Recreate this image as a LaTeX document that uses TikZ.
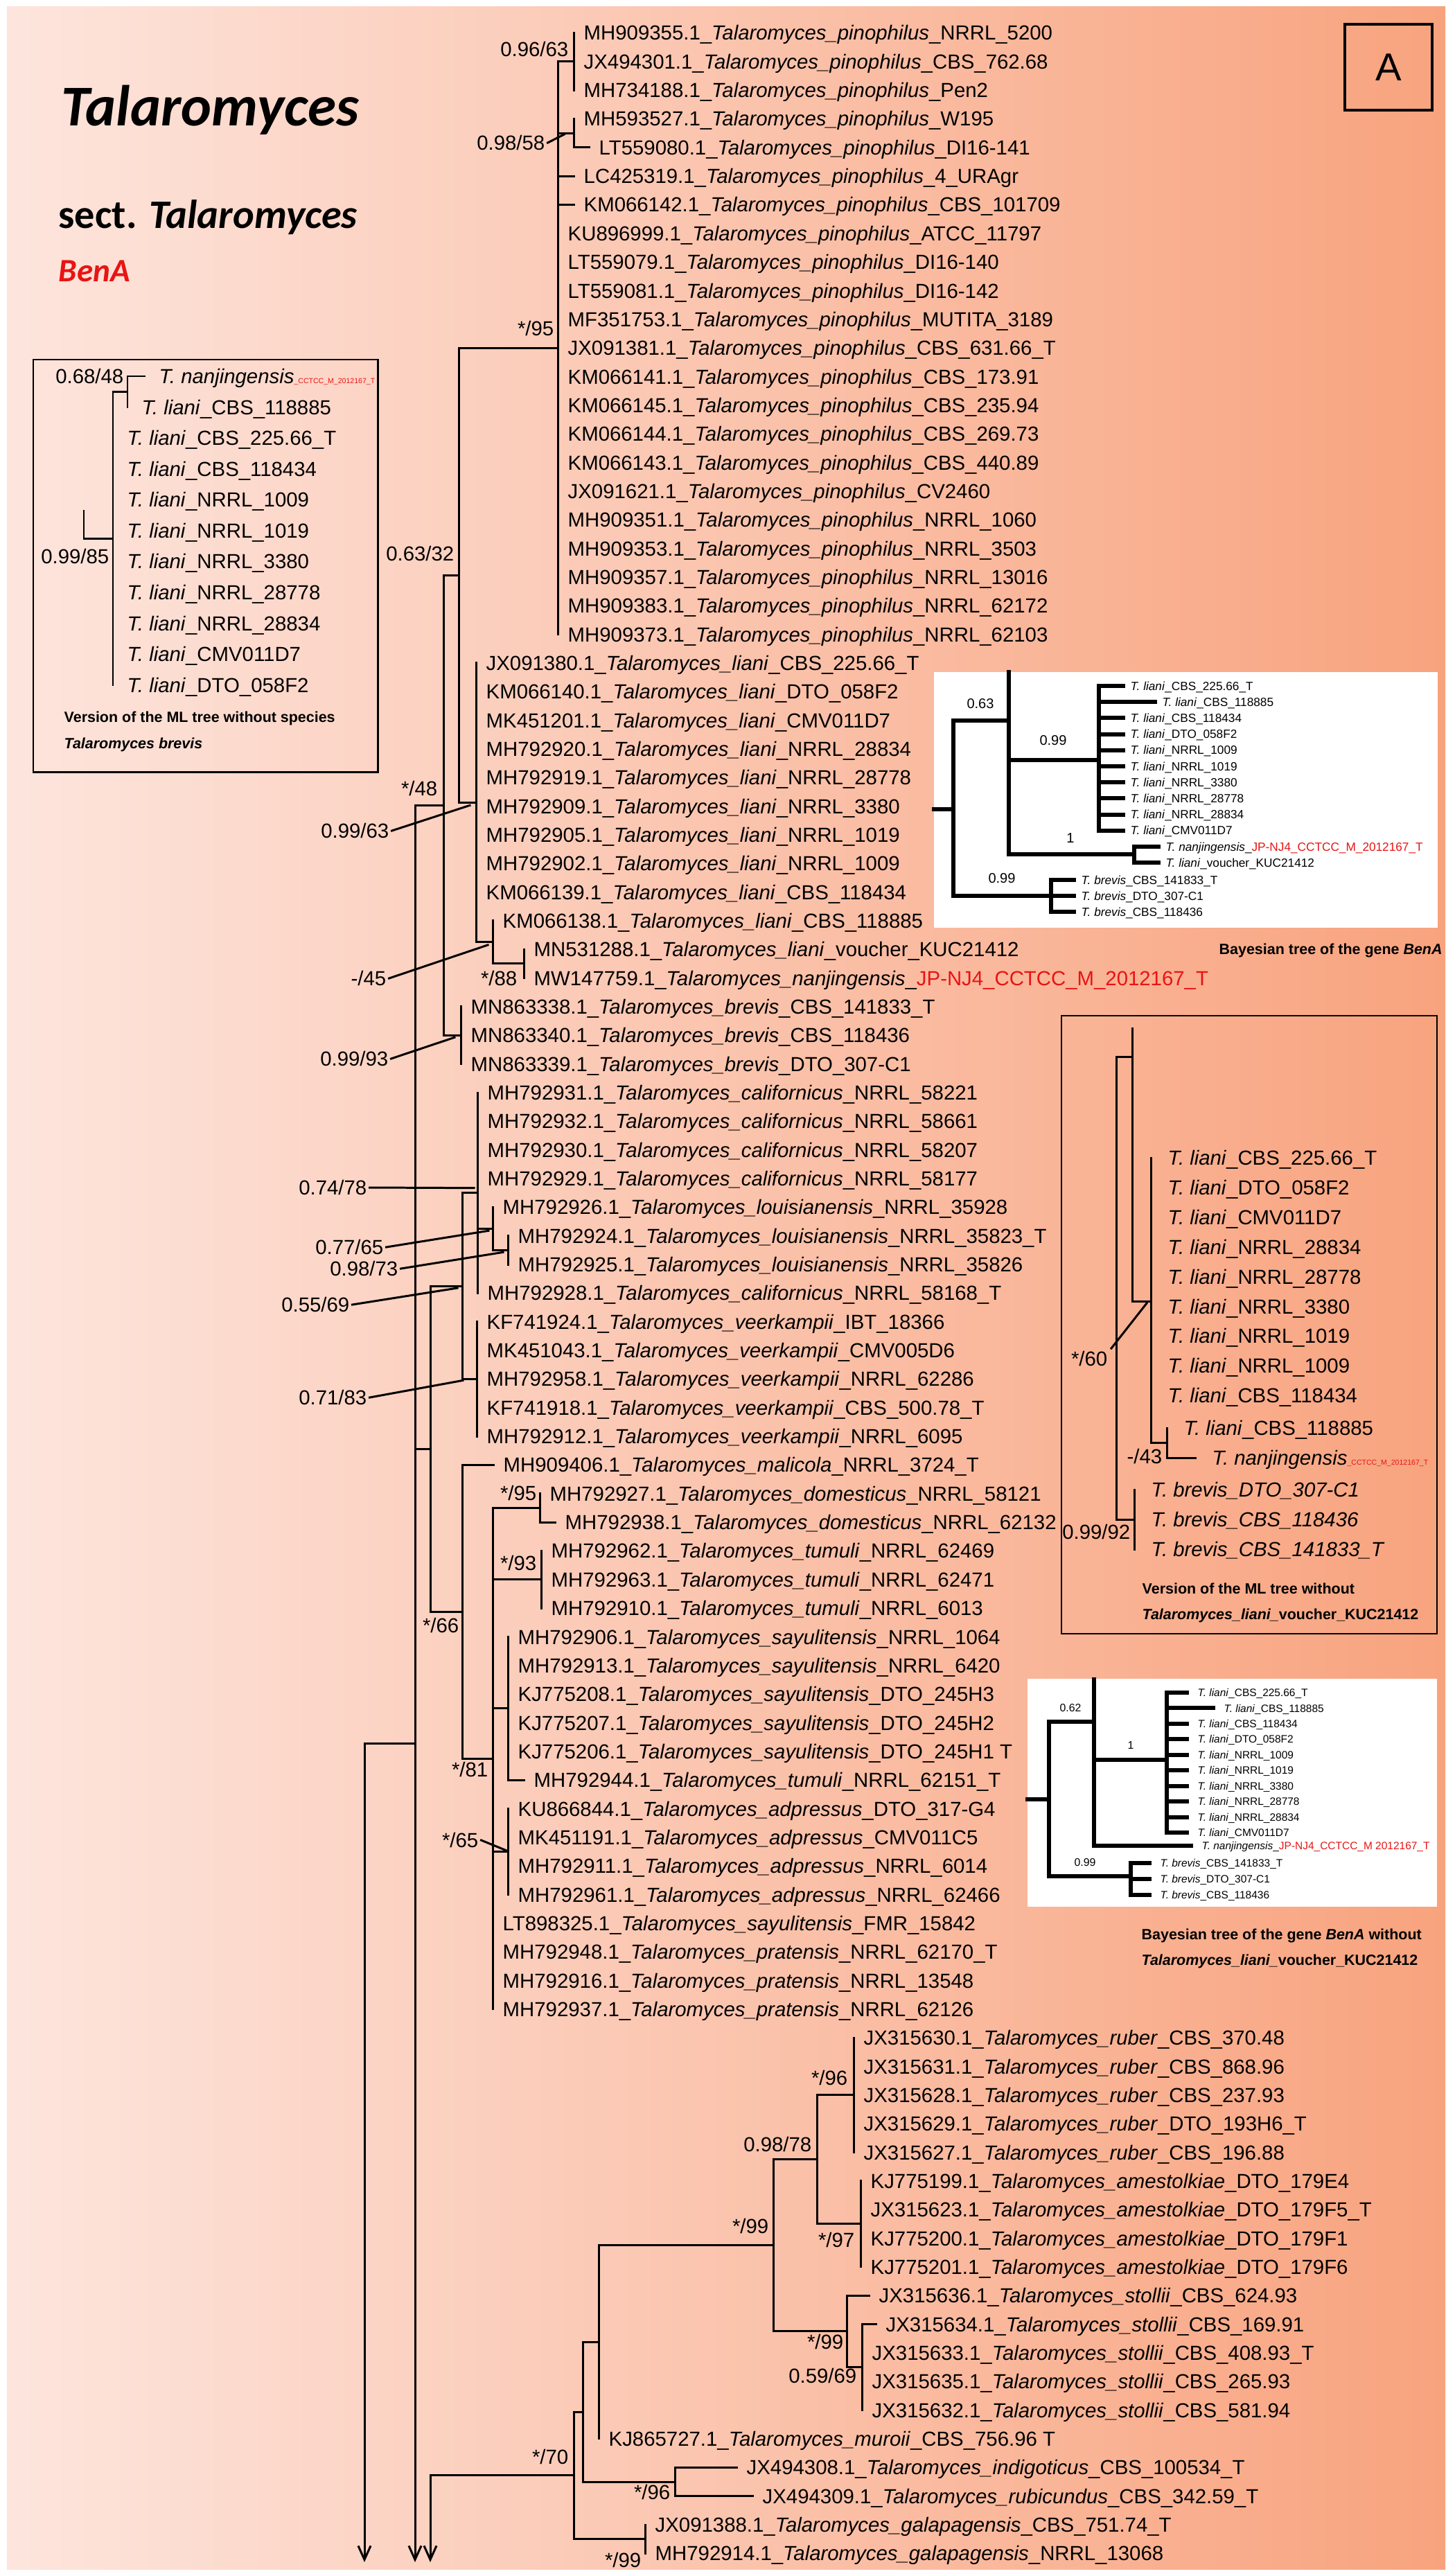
\documentclass[tikz,border=0pt]{standalone}
\usepackage{fontspec}
\setmainfont{Liberation Sans}
\newfontfamily\calfont{Carlito}
\usetikzlibrary{arrows.meta}
\definecolor{bg left}{RGB}{253,229,221}
\definecolor{bg mid}{RGB}{252,204,186}
\definecolor{bg right}{RGB}{248,163,126}
\definecolor{strain red}{RGB}{232,20,20}
\def\panel{(10,10) rectangle (2086,3708)}
\def\leftbox{(48,519) rectangle (545,1114)}
\def\rightbox{(1532,1466) rectangle (2074,2358)}
\def\baytop{(1348,970) rectangle (2075,1339)}
\def\baybottom{(1483,2423) rectangle (2074,2752)}
\def\ry#1{(47.4+(#1-1)*41.34)}
\newcommand{\tal}[3]{#1\_\textit{Talaromyces\_#2}\_#3}
\newcommand{\tli}[1]{\textit{T. liani}\_#1}
\tikzset{branch/.style={line width=0.85pt, line cap=rect},
    bbranch/.style={line width=1.7pt, line cap=rect},
    cutarrow/.style={-{Straight Barb[length=0.2cm,width=0.18cm]}},
    leaf/.style={anchor=west, inner xsep=0.14cm, inner ysep=0pt, text height=6pt, text depth=0pt, font=\fontsize{8.35}{10}\selectfont},
    mlleaf/.style={leaf, inner xsep=0.2cm},
    rmleaf/.style={leaf, inner xsep=0.24cm},
    sup/.style={anchor=east, inner sep=0pt, text height=6pt, text depth=0pt, font=\fontsize{8.35}{10}\selectfont},
    bayleaf/.style={anchor=west, inner xsep=0.1cm, inner ysep=0pt, text height=3.5pt, text depth=0pt, font=\fontsize{4.9}{6}\selectfont},
    bayleafb/.style={bayleaf, inner xsep=0.15cm, text height=3.15pt, font=\fontsize{4.4}{5.5}\selectfont},
    baysup/.style={inner sep=0pt, text height=4pt, text depth=0pt, font=\fontsize{5.7}{7}\selectfont},
    baysupb/.style={baysup, text height=3.2pt, font=\fontsize{4.5}{5.5}\selectfont},
    caption/.style={anchor=west, inner sep=0pt, text height=4.4pt, text depth=0pt, font=\bfseries\fontsize{6.1}{7}\selectfont},
    mlbox/.style={draw, line width=0.85pt}}
\begin{document}
\begin{tikzpicture}[x=0.01cm, y=-0.01cm]
\useasboundingbox (0,0) rectangle (2100,3718);
\fill[white] (0,0) rectangle (2100,3718);
\shade[left color=bg left, middle color=bg mid, right color=bg right] \panel;

\node[anchor=base west, inner sep=0pt, font=\calfont\bfseries\itshape\fontsize{23.7}{28}\selectfont] (title) at (88,182) {Talaromyces};
\node[anchor=base west, inner sep=0pt, font=\calfont\bfseries\fontsize{16.6}{20}\selectfont] (sect) at (84,329) {sect. \textit{Talaromyces}};
\node[anchor=base west, inner sep=0pt, text=strain red, font=\calfont\bfseries\itshape\fontsize{13.4}{16}\selectfont] (gene) at (84,406) {BenA};
\node[draw, line width=1.1pt, minimum width=1.26cm, minimum height=1.24cm, inner sep=0pt, font=\fontsize{16}{19}\selectfont] (tag) at (2004,97) {A};

% leaves of the main tree
\foreach \rw/\tx/\ac/\spc/\sn in {
 1/828/MH909355.1/pinophilus/NRRL\_5200, 2/828/JX494301.1/pinophilus/CBS\_762.68,
 3/828/MH734188.1/pinophilus/Pen2, 4/828/MH593527.1/pinophilus/W195,
 5/850/LT559080.1/pinophilus/DI16-141, 6/828/LC425319.1/pinophilus/4\_URAgr,
 7/828/KM066142.1/pinophilus/CBS\_101709, 8/805/KU896999.1/pinophilus/ATCC\_11797,
 9/805/LT559079.1/pinophilus/DI16-140, 10/805/LT559081.1/pinophilus/DI16-142,
 11/805/MF351753.1/pinophilus/MUTITA\_3189, 12/805/JX091381.1/pinophilus/CBS\_631.66\_T,
 13/805/KM066141.1/pinophilus/CBS\_173.91, 14/805/KM066145.1/pinophilus/CBS\_235.94,
 15/805/KM066144.1/pinophilus/CBS\_269.73, 16/805/KM066143.1/pinophilus/CBS\_440.89,
 17/805/JX091621.1/pinophilus/CV2460, 18/805/MH909351.1/pinophilus/NRRL\_1060,
 19/805/MH909353.1/pinophilus/NRRL\_3503, 20/805/MH909357.1/pinophilus/NRRL\_13016,
 21/805/MH909383.1/pinophilus/NRRL\_62172, 22/805/MH909373.1/pinophilus/NRRL\_62103,
 23/687/JX091380.1/liani/CBS\_225.66\_T, 24/687/KM066140.1/liani/DTO\_058F2,
 25/687/MK451201.1/liani/CMV011D7, 26/687/MH792920.1/liani/NRRL\_28834,
 27/687/MH792919.1/liani/NRRL\_28778, 28/687/MH792909.1/liani/NRRL\_3380,
 29/687/MH792905.1/liani/NRRL\_1019, 30/687/MH792902.1/liani/NRRL\_1009,
 31/687/KM066139.1/liani/CBS\_118434, 32/711/KM066138.1/liani/CBS\_118885,
 33/756/MN531288.1/liani/voucher\_KUC21412,
 35/665/MN863338.1/brevis/CBS\_141833\_T, 36/665/MN863340.1/brevis/CBS\_118436,
 37/665/MN863339.1/brevis/DTO\_307-C1,
 38/689/MH792931.1/californicus/NRRL\_58221, 39/689/MH792932.1/californicus/NRRL\_58661,
 40/689/MH792930.1/californicus/NRRL\_58207, 41/689/MH792929.1/californicus/NRRL\_58177,
 42/711/MH792926.1/louisianensis/NRRL\_35928, 43/733/MH792924.1/louisianensis/NRRL\_35823\_T,
 44/733/MH792925.1/louisianensis/NRRL\_35826, 45/689/MH792928.1/californicus/NRRL\_58168\_T,
 46/688/KF741924.1/veerkampii/IBT\_18366, 47/688/MK451043.1/veerkampii/CMV005D6,
 48/688/MH792958.1/veerkampii/NRRL\_62286, 49/688/KF741918.1/veerkampii/CBS\_500.78\_T,
 50/688/MH792912.1/veerkampii/NRRL\_6095, 51/712/MH909406.1/malicola/NRRL\_3724\_T,
 52/779/MH792927.1/domesticus/NRRL\_58121, 53/801/MH792938.1/domesticus/NRRL\_62132,
 54/781/MH792962.1/tumuli/NRRL\_62469, 55/781/MH792963.1/tumuli/NRRL\_62471,
 56/781/MH792910.1/tumuli/NRRL\_6013,
 57/733/MH792906.1/sayulitensis/NRRL\_1064, 58/733/MH792913.1/sayulitensis/NRRL\_6420,
 59/733/KJ775208.1/sayulitensis/DTO\_245H3, 60/733/KJ775207.1/sayulitensis/DTO\_245H2,
 61/733/KJ775206.1/sayulitensis/DTO\_245H1 T, 62/756/MH792944.1/tumuli/NRRL\_62151\_T,
 63/733/KU866844.1/adpressus/DTO\_317-G4, 64/733/MK451191.1/adpressus/CMV011C5,
 65/733/MH792911.1/adpressus/NRRL\_6014, 66/733/MH792961.1/adpressus/NRRL\_62466,
 67/711/LT898325.1/sayulitensis/FMR\_15842, 68/711/MH792948.1/pratensis/NRRL\_62170\_T,
 69/711/MH792916.1/pratensis/NRRL\_13548, 70/711/MH792937.1/pratensis/NRRL\_62126,
 71/1232/JX315630.1/ruber/CBS\_370.48, 72/1232/JX315631.1/ruber/CBS\_868.96,
 73/1232/JX315628.1/ruber/CBS\_237.93, 74/1232/JX315629.1/ruber/DTO\_193H6\_T,
 75/1232/JX315627.1/ruber/CBS\_196.88,
 76/1242/KJ775199.1/amestolkiae/DTO\_179E4, 77/1242/JX315623.1/amestolkiae/DTO\_179F5\_T,
 78/1242/KJ775200.1/amestolkiae/DTO\_179F1, 79/1242/KJ775201.1/amestolkiae/DTO\_179F6,
 80/1254/JX315636.1/stollii/CBS\_624.93, 81/1264/JX315634.1/stollii/CBS\_169.91,
 82/1244/JX315633.1/stollii/CBS\_408.93\_T, 83/1244/JX315635.1/stollii/CBS\_265.93,
 84/1244/JX315632.1/stollii/CBS\_581.94, 85/864/KJ865727.1/muroii/CBS\_756.96 T,
 86/1063/JX494308.1/indigoticus/CBS\_100534\_T, 87/1086/JX494309.1/rubicundus/CBS\_342.59\_T,
 88/931/JX091388.1/galapagensis/CBS\_751.74\_T, 89/931/MH792914.1/galapagensis/NRRL\_13068}
  \node[leaf] (l\rw) at (\tx,{\ry{\rw}}) {\tal{\ac}{\spc}{\sn}};
\node[leaf] (l34) at (756,{\ry{34}}) {MW147759.1\_\textit{Talaromyces\_nanjingensis}\_\textcolor{strain red}{JP-NJ4\_CCTCC\_M\_2012167\_T}};

% inner nodes
\coordinate (pa) at (828,{\ry{2}});
\pgfmathsetmacro\yPb{(\ry{4}+\ry{5})/2}
\coordinate (pb) at (828,\yPb);
\coordinate (pin) at (805,{\ry{12}});
\pgfmathsetmacro\yS{(\ry{33}+\ry{34})/2}
\coordinate (nS) at (756,\yS);
\pgfmathsetmacro\yR{(\ry{32}+\yS)/2}
\coordinate (nR) at (711,\yR);
\pgfmathsetmacro\yQ{(\ry{23}+\yR)/2}
\coordinate (lia) at (687,\yQ);
\pgfmathsetmacro\yA{(\ry{12}+\yQ)/2}
\coordinate (nA) at (662,\yA);
\coordinate (bre) at (665,{\ry{36}});
\pgfmathsetmacro\yB{(\yA+\ry{36})/2}
\coordinate (nB) at (640,\yB);
\coordinate (nC) at (599,\yB);
\pgfmathsetmacro\yLb{(\ry{43}+\ry{44})/2}
\coordinate (lob) at (733,\yLb);
\pgfmathsetmacro\yLa{(\ry{42}+\yLb)/2}
\coordinate (loa) at (711,\yLa);
\pgfmathsetmacro\yE{(\ry{38}+\ry{45})/2}
\coordinate (cal) at (689,\yE);
\coordinate (vee) at (688,{\ry{48}});
\pgfmathsetmacro\yD{(\yE+\ry{48})/2}
\coordinate (nD) at (667,\yD);
\pgfmathsetmacro\yDm{(\ry{52}+\ry{53})/2}
\coordinate (dom) at (779,\yDm);
\coordinate (tum) at (781,{\ry{55}});
\pgfmathsetmacro\ySy{(\ry{57}+\ry{62})/2}
\coordinate (say) at (733,\ySy);
\pgfmathsetmacro\yAd{(\ry{63}+\ry{66})/2}
\coordinate (adp) at (733,\yAd);
\pgfmathsetmacro\yH{(\yDm+\ry{70})/2}
\coordinate (nH) at (711,\yH);
\pgfmathsetmacro\yG{(\ry{51}+\yH)/2}
\coordinate (nG) at (667,\yG);
\pgfmathsetmacro\yF{(\yD+\yG)/2}
\coordinate (nF) at (621,\yF);
\coordinate (nX) at (526,2516);
\coordinate (rub) at (1232,{\ry{73}});
\pgfmathsetmacro\yAm{(\ry{76}+\ry{79})/2}
\coordinate (ame) at (1242,\yAm);
\pgfmathsetmacro\yN{(\ry{73}+\yAm)/2}
\coordinate (nN) at (1179,\yN);
\pgfmathsetmacro\yP{(\ry{81}+\ry{84})/2}
\coordinate (nP) at (1244,\yP);
\pgfmathsetmacro\yO{(\ry{80}+\yP)/2}
\coordinate (sto) at (1222,\yO);
\pgfmathsetmacro\yM{(\yN+\yO)/2}
\coordinate (nM) at (1116,\yM);
\pgfmathsetmacro\yL{(\yM+\ry{85})/2}
\coordinate (nL) at (864,\yL);
\pgfmathsetmacro\yK{(\ry{86}+\ry{87})/2}
\coordinate (nK) at (974,\yK);
\pgfmathsetmacro\yJ{(\yL+\yK)/2}
\coordinate (nJ) at (841,\yJ);
\pgfmathsetmacro\yGa{(\ry{88}+\ry{89})/2}
\coordinate (gal) at (931,\yGa);
\pgfmathsetmacro\yI{(\yJ+\yGa)/2}
\coordinate (nI) at (828,\yI);
\coordinate (nZ) at (621,\yI);
\coordinate (endC) at (599,3698);
\coordinate (endX) at (526,3698);
\coordinate (endZ) at (621,3698);

\draw[branch] (pa |- l1) -- (pa |- l3);
\draw[branch] (pb |- l4) -- (pb |- l5) -- (l5.west);
\draw[branch] (pin |- pa) -- (pin |- l22);
\draw[branch] (pin |- pa) -- (pa);
\draw[branch] (pb -| pin) -- (pb);
\draw[branch] (l6 -| pin) -- (l6.west);
\draw[branch] (l7 -| pin) -- (l7.west);
\draw[branch] (nS |- l33) -- (nS |- l34);
\draw[branch] (nR |- l32) -- (nR |- nS) -- (nS);
\draw[branch] (lia |- l23) -- (lia |- nR) -- (nR);
\draw[branch] (nA |- pin) -- (nA |- lia) -- (lia);
\draw[branch] (nA |- pin) -- (pin);
\draw[branch] (bre |- l35) -- (bre |- l37);
\draw[branch] (nB |- nA) -- (nB |- bre) -- (bre);
\draw[branch] (nB |- nA) -- (nA);
\draw[branch, cutarrow] (nC) -- (endC);
\draw[branch] (nC) -- (nB);
\draw[branch] (lob |- l43) -- (lob |- l44);
\draw[branch] (loa |- l42) -- (loa |- lob) -- (lob);
\draw[branch] (cal |- l38) -- (cal |- l45);
\draw[branch] (cal |- loa) -- (loa);
\draw[branch] (vee |- l46) -- (vee |- l50);
\draw[branch] (nD |- cal) -- (nD |- vee) -- (vee);
\draw[branch] (nD |- cal) -- (cal);
\draw[branch] (dom |- l52) -- (dom |- l53) -- (l53.west);
\draw[branch] (tum |- l54) -- (tum |- l56);
\draw[branch] (say |- l57) -- (say |- l62) -- (l62.west);
\draw[branch] (adp |- l63) -- (adp |- l66);
\draw[branch] (nH |- dom) -- (nH |- l70);
\draw[branch] (nH |- dom) -- (dom);
\draw[branch] (nH |- tum) -- (tum);
\draw[branch] (nH |- say) -- (say);
\draw[branch] (nH |- adp) -- (adp);
\draw[branch] (nG |- l51) -- (nG |- nH) -- (nH);
\draw[branch] (nG |- l51) -- (l51.west);
\draw[branch] (nF |- nD) -- (nF |- nG) -- (nG);
\draw[branch] (nF |- nD) -- (nD);
\draw[branch] (nC |- nF) -- (nF);
\draw[branch] (nC |- nX) -- (nX);
\draw[branch, cutarrow] (nX) -- (endX);
\draw[branch] (rub |- l71) -- (rub |- l75);
\draw[branch] (ame |- l76) -- (ame |- l79);
\draw[branch] (nN |- rub) -- (nN |- ame) -- (ame);
\draw[branch] (nN |- rub) -- (rub);
\draw[branch] (nP |- l81) -- (nP |- l84);
\draw[branch] (nP |- l81) -- (l81.west);
\draw[branch] (sto |- l80) -- (sto |- nP) -- (nP);
\draw[branch] (sto |- l80) -- (l80.west);
\draw[branch] (nM |- nN) -- (nM |- sto) -- (sto);
\draw[branch] (nM |- nN) -- (nN);
\draw[branch] (nL |- nM) -- (nL |- l85);
\draw[branch] (nL |- nM) -- (nM);
\draw[branch] (nK |- l86) -- (nK |- l87) -- (l87.west);
\draw[branch] (nK |- l86) -- (l86.west);
\draw[branch] (nJ |- nL) -- (nJ |- nK) -- (nK);
\draw[branch] (nJ |- nL) -- (nL);
\draw[branch] (gal |- l88) -- (gal |- l89);
\draw[branch] (nI |- nJ) -- (nI |- gal) -- (gal);
\draw[branch] (nI |- nJ) -- (nJ);
\draw[branch] (nZ) -- (nI);
\draw[branch, cutarrow] (nZ) -- (endZ);

% support values
\node[sup] (s1) at (821,71) {0.96/63};
\node[sup] (s2) at (787,206) {0.98/58};
\node[sup] (s3) at (800,474) {*/95};
\node[sup] (s4) at (656,799) {0.63/32};
\node[sup] (s5) at (632,1138) {*/48};
\node[sup] (s6) at (562,1199) {0.99/63};
\node[sup] (s7) at (558,1412) {-/45};
\node[sup] (s8) at (747,1412) {*/88};
\node[sup] (s9) at (561,1528) {0.99/93};
\node[sup] (s10) at (530,1714) {0.74/78};
\node[sup] (s11) at (554,1800) {0.77/65};
\node[sup] (s12) at (575,1831) {0.98/73};
\node[sup] (s13) at (505,1883) {0.55/69};
\node[sup] (s14) at (530,2017) {0.71/83};
\node[sup] (s15) at (663,2346) {*/66};
\node[sup] (s16) at (775,2155) {*/95};
\node[sup] (s17) at (775,2256) {*/93};
\node[sup] (s18) at (705,2554) {*/81};
\node[sup] (s19) at (691,2656) {*/65};
\node[sup] (s20) at (1172,3095) {0.98/78};
\node[sup] (s21) at (1224,2999) {*/96};
\node[sup] (s22) at (1234,3233) {*/97};
\node[sup] (s23) at (1218,3380) {*/99};
\node[sup] (s24) at (1237,3429) {0.59/69};
\node[sup] (s25) at (1110,3213) {*/99};
\node[sup] (s26) at (821,3546) {*/70};
\node[sup] (s27) at (968,3597) {*/96};
\node[sup] (s28) at (926,3695) {*/99};
\draw[branch] ([xshift=1pt]s2.east) -- ([shift={(-14,2)}]pb);
\draw[branch] ([xshift=1pt]s6.east) -- ([shift={(-9,4)}]lia);
\draw[branch] ([xshift=1pt]s7.east) -- ([shift={(-7,4)}]nR);
\draw[branch] ([xshift=1pt]s9.east) -- ([shift={(-9,3)}]bre);
\draw[branch] ([xshift=1pt]s10.east) -- ([shift={(-5,-7)}]cal);
\draw[branch] ([xshift=1pt]s11.east) -- ([shift={(-6,3)}]loa);
\draw[branch] ([xshift=1pt]s12.east) -- ([shift={(-7,3)}]lob);
\draw[branch] ([xshift=1pt]s13.east) -- ([shift={(-7,3)}]nD);
\draw[branch] ([xshift=1pt]s14.east) -- ([shift={(-20,2)}]vee);
\draw[branch] ([xshift=1pt]s19.east) -- ([shift={(-3,-2)}]adp);

% ML tree without brevis
\draw[mlbox] \leftbox;
\coordinate (iN) at (184,565.5);
\coordinate (iR) at (163,565.5);
\coordinate (iS0) at (121,737);
\coordinate (iS) at (121,777);
\node[mlleaf] (il0) at (209,543) {\textit{T. nanjingensis}\textcolor{strain red}{\fontsize{3}{3}\selectfont\_CCTCC\_M\_2012167\_T}};
\node[mlleaf] (il1) at (184,588) {\tli{CBS\_118885}};
\foreach \k/\sn in {2/CBS\_225.66\_T, 3/CBS\_118434, 4/NRRL\_1009, 5/NRRL\_1019, 6/NRRL\_3380, 7/NRRL\_28778, 8/NRRL\_28834, 9/CMV011D7, 10/DTO\_058F2}
  \node[mlleaf] (il\k) at (163,{632+44.6*(\k-2)}) {\tli{\sn}};
\draw[branch] (iN |- il0) -- (iN |- il1);
\draw[branch] (iN |- il0) -- (il0.west);
\draw[branch] (iR) -- (iR |- il10);
\draw[branch] (iR) -- (iN);
\draw[branch] (iS0) -- (iS) -- (iR |- iS);
\node[sup] (i1) at (179,543) {0.68/48};
\node[sup] (i2) at (158,803) {0.99/85};
\node[caption] (icap1) at (92,1035) {Version of the ML tree without species};
\node[caption] (icap2) at (92,1073) {\textit{Talaromyces brevis}};

% ML tree without the voucher
\draw[mlbox, line width=0.6pt] \rightbox;
\coordinate (rtop) at (1634,1484);
\coordinate (rU) at (1634,1525);
\coordinate (rR) at (1611,1525);
\coordinate (rL) at (1661,1878);
\coordinate (rN) at (1684,2082);
\coordinate (rB) at (1637,2193);
\foreach \k/\sn in {0/CBS\_225.66\_T, 1/DTO\_058F2, 2/CMV011D7, 3/NRRL\_28834, 4/NRRL\_28778, 5/NRRL\_3380, 6/NRRL\_1019, 7/NRRL\_1009, 8/CBS\_118434}
  \node[rmleaf] (rl\k) at (1661,{1671+42.9*\k}) {\tli{\sn}};
\node[rmleaf] (rl9) at (1684,2061) {\tli{CBS\_118885}};
\node[rmleaf] (rl10) at (1725,2104) {\textit{T. nanjingensis}\textcolor{strain red}{\fontsize{3}{3}\selectfont\_CCTCC\_M\_2012167\_T}};
\foreach \k/\sn/\yy in {1/DTO\_307-C1/2150, 2/CBS\_118436/2193, 3/CBS\_141833\_T/2236}
  \node[rmleaf] (rb\k) at (1637,\yy) {\textit{T. brevis\_\sn}};
\draw[branch] (rR) -- (rR |- rB) -- (rB);
\draw[branch] (rR) -- (rU);
\draw[branch] (rtop) -- (rU |- rL) -- (rL);
\draw[branch] (rL |- rl0) -- (rL |- rN) -- (rN);
\draw[branch] (rN |- rl9) -- (rN |- rl10) -- (rl10.west);
\draw[branch] (rB |- rb1) -- (rB |- rb3);
\node[sup] (r1) at (1599,1961) {*/60};
\node[sup] (r2) at (1678,2102) {-/43};
\node[sup] (r3) at (1632,2211) {0.99/92};
\draw[branch] ([shift={(5,-15)}]r1.east) -- ([shift={(-6,3)}]rL);
\node[caption] (rcap1) at (1648,2293) {Version of the ML tree without};
\node[caption] (rcap2) at (1648,2330) {\textit{Talaromyces\_liani\_}voucher\_KUC21412};

% Bayesian tree
\fill[white] \baytop;
\coordinate (ba0) at (1348,1168);
\coordinate (ba1) at (1376,1168);
\coordinate (ba2) at (1456,1040);
\coordinate (batop) at (1456,970);
\coordinate (ba3) at (1586,1097);
\coordinate (ba4) at (1637,1233);
\coordinate (ba5) at (1517,1293);
\foreach \k/\sn in {0/CBS\_225.66\_T, 1/CBS\_118885, 2/CBS\_118434, 3/DTO\_058F2, 4/NRRL\_1009, 5/NRRL\_1019, 6/NRRL\_3380, 7/NRRL\_28778, 8/NRRL\_28834, 9/CMV011D7}{
  \pgfmathsetmacro\tx{ifthenelse(\k==1,1667,1621)}
  \node[bayleaf] (bt\k) at (\tx,{990+23.2*\k}) {\tli{\sn}};
  \draw[bbranch] (ba3 |- bt\k) -- (bt\k.west);
}
\node[bayleaf] (bn1) at (1672,1222) {\textit{T. nanjingensis}\_\textcolor{strain red}{JP-NJ4\_CCTCC\_M\_2012167\_T}};
\node[bayleaf] (bn2) at (1672,1245) {\tli{voucher\_KUC21412}};
\foreach \k/\sn/\yy in {1/CBS\_141833\_T/1270, 2/DTO\_307-C1/1293, 3/CBS\_118436/1316}{
  \node[bayleaf] (bb\k) at (1550,\yy) {\textit{T. brevis}\_\sn};
  \draw[bbranch] (ba5 |- bb\k) -- (bb\k.west);
}
\draw[bbranch] (ba0) -- (ba1);
\draw[bbranch] (ba1 |- ba2) -- (ba1 |- ba5) -- (ba5);
\draw[bbranch] (ba1 |- ba2) -- (ba2);
\draw[bbranch] (batop) -- (ba2 |- ba4) -- (ba4);
\draw[bbranch] (ba2 |- ba3) -- (ba3);
\draw[bbranch] (ba3 |- bt0) -- (ba3 |- bt9);
\draw[bbranch] (ba4 |- bn1) -- (ba4 |- bn2);
\draw[bbranch] (ba4 |- bn1) -- (bn1.west);
\draw[bbranch] (ba4 |- bn2) -- (bn2.west);
\draw[bbranch] (ba5 |- bb1) -- (ba5 |- bb3);
\node[baysup] (bs1) at (1415,1015) {0.63};
\node[baysup] (bs2) at (1520,1068) {0.99};
\node[baysup] (bs3) at (1545,1209) {1};
\node[baysup] (bs4) at (1446,1267) {0.99};
\node[caption] (bcap) at (1759,1370) {Bayesian tree of the gene \textit{BenA}};

% Bayesian tree without the voucher
\fill[white] \baybottom;
\coordinate (bc0) at (1483,2597);
\coordinate (bc1) at (1514,2597);
\coordinate (bc2) at (1579,2485);
\coordinate (bctop) at (1579,2424);
\coordinate (bc3) at (1684,2540);
\coordinate (bc5) at (1632,2708);
\foreach \k/\sn in {0/CBS\_225.66\_T, 1/CBS\_118885, 2/CBS\_118434, 3/DTO\_058F2, 4/NRRL\_1009, 5/NRRL\_1019, 6/NRRL\_3380, 7/NRRL\_28778, 8/NRRL\_28834, 9/CMV011D7}{
  \pgfmathsetmacro\tx{ifthenelse(\k==1,1751,1713)}
  \node[bayleafb] (ct\k) at (\tx,{2443+22.44*\k}) {\tli{\sn}};
  \draw[bbranch] (bc3 |- ct\k) -- (ct\k.west);
}
\node[bayleafb] (cn1) at (1719,2664) {\textit{T. nanjingensis}\_\textcolor{strain red}{JP-NJ4\_CCTCC\_M 2012167\_T}};
\foreach \k/\sn/\yy in {1/CBS\_141833\_T/2689, 2/DTO\_307-C1/2712, 3/CBS\_118436/2735}{
  \node[bayleafb] (cb\k) at (1659,\yy) {\textit{T. brevis}\_\sn};
  \draw[bbranch] (bc5 |- cb\k) -- (cb\k.west);
}
\draw[bbranch] (bc0) -- (bc1);
\draw[bbranch] (bc1 |- bc2) -- (bc1 |- bc5) -- (bc5);
\draw[bbranch] (bc1 |- bc2) -- (bc2);
\draw[bbranch] (bctop) -- (bc2 |- cn1) -- (cn1.west);
\draw[bbranch] (bc2 |- bc3) -- (bc3);
\draw[bbranch] (bc3 |- ct0) -- (bc3 |- ct9);
\draw[bbranch] (bc5 |- cb1) -- (bc5 |- cb3);
\node[baysupb] (cs1) at (1545,2465) {0.62};
\node[baysupb] (cs2) at (1632,2519) {1};
\node[baysupb] (cs3) at (1566,2688) {0.99};
\node[caption] (ccap1) at (1647,2792) {Bayesian tree of the gene \textit{BenA} without};
\node[caption] (ccap2) at (1647,2829) {\textit{Talaromyces\_liani\_}voucher\_KUC21412};
\end{tikzpicture}
\end{document}
